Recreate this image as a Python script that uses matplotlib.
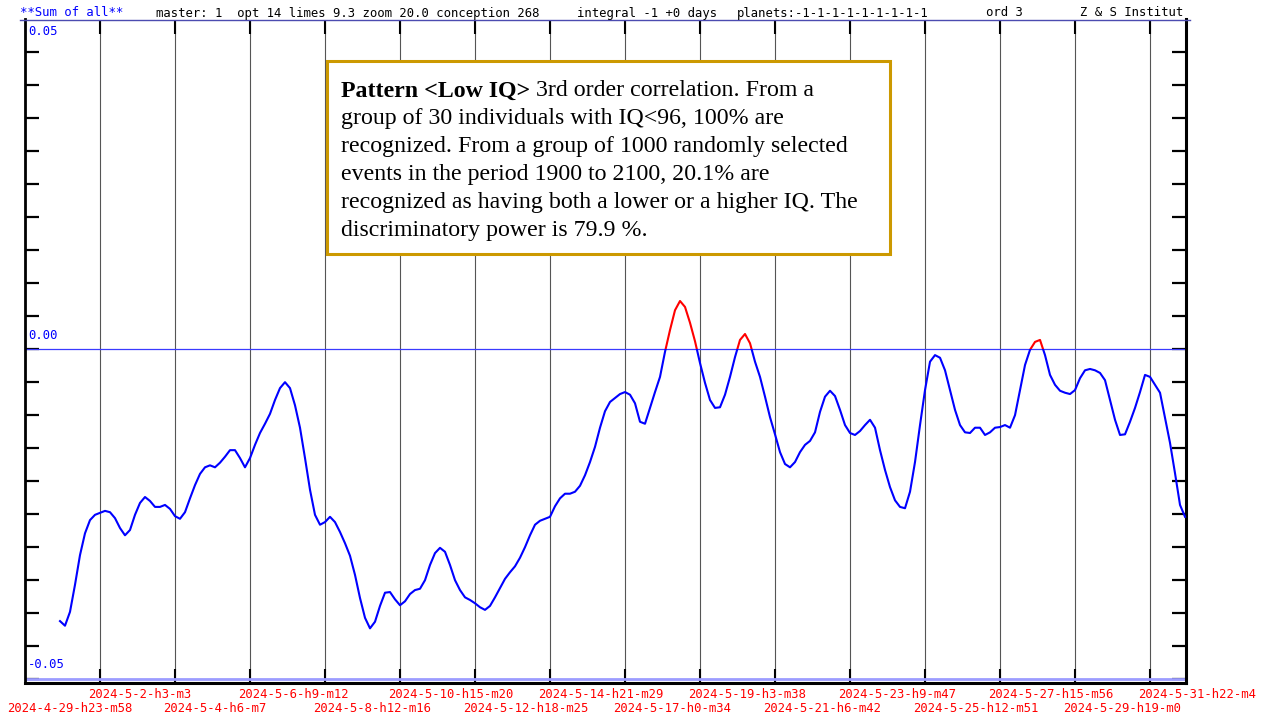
import numpy as np
import matplotlib
matplotlib.use("Agg")
import matplotlib.pyplot as plt
from matplotlib.transforms import offset_copy
from matplotlib.patches import Rectangle
from matplotlib.lines import Line2D

# ---------------- data ----------------
TICK_STEP_H = 51.073          # hours between date labels
T_START_H = 23.83             # first sample (hours after first label)
T_END_H = 789.93              # last sample
X_MAX_H = 790.6               # right edge of the plot

x_labels = ["2024-4-29-h23-m58", "2024-5-2-h3-m3", "2024-5-4-h6-m7", "2024-5-6-h9-m12",
            "2024-5-8-h12-m16", "2024-5-10-h15-m20", "2024-5-12-h18-m25", "2024-5-14-h21-m29",
            "2024-5-17-h0-m34", "2024-5-19-h3-m38", "2024-5-21-h6-m42", "2024-5-23-h9-m47",
            "2024-5-25-h12-m51", "2024-5-27-h15-m56", "2024-5-29-h19-m0", "2024-5-31-h22-m4"]

y_label_values = [0.05, 0.00, -0.05]
y_label_texts = ["0.05", "0.00", "-0.05"]

values = [
    -0.0413, -0.0420, -0.0399, -0.0358, -0.0313, -0.0280, -0.0260, -0.0252, -0.0249, -0.0246, -0.0248, -0.0257, -0.0272, -0.0283, -0.0275,
    -0.0252, -0.0234, -0.0225, -0.0231, -0.0240, -0.0240, -0.0237, -0.0243, -0.0254, -0.0258, -0.0248, -0.0227, -0.0207, -0.0190, -0.0180,
    -0.0177, -0.0180, -0.0173, -0.0164, -0.0154, -0.0154, -0.0166, -0.0180, -0.0166, -0.0146, -0.0128, -0.0114, -0.0099, -0.0078, -0.0060,
    -0.0051, -0.0060, -0.0086, -0.0120, -0.0166, -0.0214, -0.0252, -0.0267, -0.0263, -0.0255, -0.0263, -0.0278, -0.0295, -0.0314, -0.0343,
    -0.0378, -0.0408, -0.0424, -0.0414, -0.0390, -0.0370, -0.0369, -0.0380, -0.0389, -0.0383, -0.0372, -0.0366, -0.0364, -0.0351, -0.0328,
    -0.0310, -0.0302, -0.0308, -0.0328, -0.0351, -0.0366, -0.0377, -0.0381, -0.0386, -0.0392, -0.0396, -0.0390, -0.0377, -0.0363, -0.0349,
    -0.0339, -0.0330, -0.0317, -0.0301, -0.0283, -0.0267, -0.0261, -0.0258, -0.0255, -0.0239, -0.0227, -0.0220, -0.0220, -0.0217, -0.0208,
    -0.0192, -0.0172, -0.0149, -0.0120, -0.0095, -0.0081, -0.0075, -0.0069, -0.0066, -0.0070, -0.0083, -0.0111, -0.0114, -0.0090, -0.0066,
    -0.0043, -0.0005, 0.0028, 0.0058, 0.0072, 0.0063, 0.0039, 0.0011, -0.0022, -0.0052, -0.0078, -0.0090, -0.0089, -0.0070, -0.0043,
    -0.0013, 0.0013, 0.0022, 0.0008, -0.0020, -0.0043, -0.0073, -0.0104, -0.0130, -0.0157, -0.0175, -0.0180, -0.0172, -0.0157, -0.0146,
    -0.0140, -0.0127, -0.0096, -0.0073, -0.0064, -0.0072, -0.0093, -0.0116, -0.0128, -0.0131, -0.0125, -0.0116, -0.0108, -0.0120, -0.0154,
    -0.0184, -0.0210, -0.0230, -0.0240, -0.0242, -0.0217, -0.0172, -0.0116, -0.0063, -0.0020, -0.0010, -0.0014, -0.0033, -0.0063, -0.0093,
    -0.0116, -0.0127, -0.0128, -0.0120, -0.0120, -0.0131, -0.0127, -0.0120, -0.0119, -0.0116, -0.0120, -0.0101, -0.0063, -0.0025, -0.0002,
    0.0010, 0.0013, -0.0010, -0.0040, -0.0055, -0.0064, -0.0067, -0.0069, -0.0063, -0.0045, -0.0033, -0.0031, -0.0033, -0.0037, -0.0048,
    -0.0078, -0.0108, -0.0131, -0.0130, -0.0111, -0.0090, -0.0066, -0.0040, -0.0043, -0.0055, -0.0067, -0.0105, -0.0143, -0.0189, -0.0237,
    -0.0255,
]

header_parts = [
    ("**Sum of all**", "#0000ff"),
    ("master: 1  opt 14 limes 9.3 zoom 20.0 conception 268", "black"),
    ("integral -1 +0 days", "black"),
    ("planets:-1-1-1-1-1-1-1-1-1", "black"),
    ("ord 3", "black"),
    ("Z & S Institut", "black"),
]
header_x_px = [20, 156, 577, 737, 986, 1080]

box_bold = "Pattern <Low IQ>"
box_lines = [
    " 3rd order correlation. From a",
    "group of 30 individuals with IQ<96, 100% are",
    "recognized. From a group of 1000 randomly selected",
    "events in the period 1900 to 2100, 20.1% are",
    "recognized as having both a lower or a higher IQ. The",
    "discriminatory power is 79.9 %.",
]

# ---------------- figure ----------------
W, H = 1262, 720
fig = plt.figure(figsize=(W / 100, H / 100), dpi=100)
fig.patch.set_facecolor("white")

L, R, T, B = 25, 1186, 19.5, 683
ax = fig.add_axes([L / W, 1 - B / H, (R - L) / W, (B - T) / H])
ax.set_xlim(0, X_MAX_H)
ax.set_ylim(-0.05068, 0.04985)

MONO = "DejaVu Sans Mono"
FS = 8.85

# grid / ticks
ax.set_xticks([k * TICK_STEP_H for k in range(1, len(x_labels))])
ax.set_yticks(np.arange(-0.05, 0.0451, 0.005))
ax.tick_params(axis="x", direction="in", length=10, width=1.5, top=True, bottom=True,
               labelbottom=False, labeltop=False, color="black")
ax.tick_params(axis="y", direction="in", length=10, width=1.6, left=True, right=True,
               labelleft=False, labelright=False, color="black")
ax.grid(axis="x", color="#555555", lw=0.8)
ax.set_axisbelow(True)

for side, lw in [("left", 2.0), ("bottom", 2.2), ("right", 2.2)]:
    ax.spines[side].set_linewidth(lw)
    ax.spines[side].set_color("black")
ax.spines["top"].set_visible(False)

ax.axhline(0.0, color="#3a3aff", lw=0.9, zorder=1.5)
ax.axhline(-0.05, color="#9c9cff", lw=2.0, zorder=1.5)

# curve: blue below zero, red above zero
t = np.linspace(T_START_H, T_END_H, len(values))
v = np.array(values)
blue, = ax.plot(t, v, color="#0000ff", lw=1.5, zorder=3)
red, = ax.plot(t, v, color="#ff0000", lw=1.5, zorder=3)
clip_lo = Rectangle((-10, -1), X_MAX_H + 20, 1, transform=ax.transData)
clip_hi = Rectangle((-10, 0), X_MAX_H + 20, 1, transform=ax.transData)
blue.set_clip_path(clip_lo)
red.set_clip_path(clip_hi)

# x labels (two staggered rows, red)
for k, lab in enumerate(x_labels):
    dx = -18 if k == 0 else -12
    dy = -(709 - B) if k % 2 == 0 else -(694 - B)
    tr = offset_copy(ax.get_xaxis_transform(), fig=fig, x=dx, y=dy, units="dots")
    ax.text(k * TICK_STEP_H, 0, lab, transform=tr, ha="left", va="center",
            color="#ff0000", family=MONO, fontsize=FS, clip_on=False)

# y labels (blue, inside)
y_offsets = [-13, 13.5, 14]
for val, txt, off in zip(y_label_values, y_label_texts, y_offsets):
    tr = offset_copy(ax.get_yaxis_transform(), fig=fig, x=3, y=off, units="dots")
    ax.text(0, val, txt, transform=tr, ha="left", va="center",
            color="#0000ff", family=MONO, fontsize=FS, clip_on=False)

# header
for (s, c), xp in zip(header_parts, header_x_px):
    fig.text(xp / W, 1 - 13 / H, s, ha="left", va="center", color=c,
             family=MONO, fontsize=FS)
fig.add_artist(Line2D([20 / W, 1190 / W], [1 - 19.5 / H] * 2, color="#4b4bb0", lw=1.0))

# annotation box
bx0, bx1, by0, by1 = 327, 890, 61, 254
fig.add_artist(Rectangle((bx0 / W, 1 - by1 / H), (bx1 - bx0) / W, (by1 - by0) / H,
                         transform=fig.transFigure, fc="white", ec="#cc9900", lw=2.2, zorder=5))
SERIF = "Liberation Serif"
BFS = 17.2
base0 = 96.5
pitch = 27.8
bold_t = fig.text(341 / W, 1 - base0 / H, box_bold, ha="left", va="baseline",
                  family=SERIF, fontsize=BFS, fontweight="bold", zorder=6)
fig.canvas.draw()
bb = bold_t.get_window_extent()
fig.text(bb.x1 / W, 1 - base0 / H, box_lines[0], ha="left", va="baseline",
         family=SERIF, fontsize=BFS, zorder=6)
for i, line in enumerate(box_lines[1:], start=1):
    fig.text(341 / W, 1 - (base0 + i * pitch) / H, line, ha="left", va="baseline",
             family=SERIF, fontsize=BFS, zorder=6)

fig.savefig("out.png", dpi=100)
